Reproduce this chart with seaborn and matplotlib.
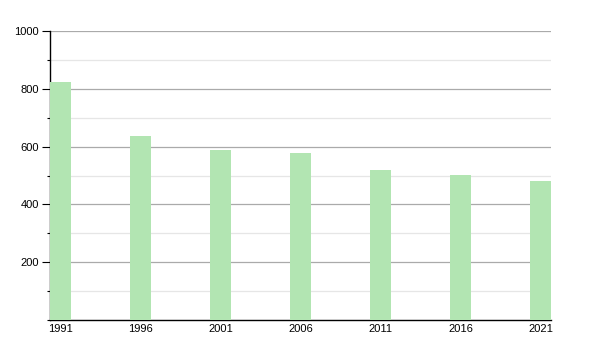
import matplotlib
matplotlib.use("Agg")
import matplotlib.pyplot as plt
import seaborn as sns
import pandas as pd
from matplotlib.ticker import MultipleLocator

years = ["1991", "1996", "2001", "2006", "2011", "2016", "2021"]
population = [822, 636, 587, 577, 519, 502, 482]

sns.set_style("white")
plt.rcParams['font.family'] = ['Liberation Sans', 'DejaVu Sans']

df = pd.DataFrame({"year": years, "value": population})

fig = plt.figure(figsize=(6, 3.5), dpi=100)
ax = fig.add_axes([50/600, 30/350, 501/600, 289/350])

sns.barplot(data=df, x="year", y="value", ax=ax, color="#b2e5b2",
            width=0.26, saturation=1, edgecolor="none", zorder=3)

ax.set_xlim(-0.13, len(years) - 1 + 0.13)
ax.set_ylim(0, 1000)
ax.yaxis.set_major_locator(MultipleLocator(200))
ax.yaxis.set_minor_locator(MultipleLocator(100))
ax.set_yticks([200, 400, 600, 800, 1000])
ax.grid(which="major", axis="y", color="#aaaaaa", linewidth=0.9, zorder=0)
ax.grid(which="minor", axis="y", color="#e6e6e6", linewidth=0.9, zorder=0)
ax.set_axisbelow(True)

for s in ["top", "right"]:
    ax.spines[s].set_visible(False)
for s in ["left", "bottom"]:
    ax.spines[s].set_color("black")
    ax.spines[s].set_linewidth(1)

ax.tick_params(axis="y", which="major", length=6, width=0.8, color="black",
               labelsize=8, pad=2, left=True, labelcolor="black")
ax.tick_params(axis="y", which="minor", length=2, width=0.8, color="black", left=True)
ax.tick_params(axis="x", length=0, labelsize=8, pad=3, labelcolor="black")
ax.set_xlabel("")
ax.set_ylabel("")

fig.savefig("out.png", dpi=100)
